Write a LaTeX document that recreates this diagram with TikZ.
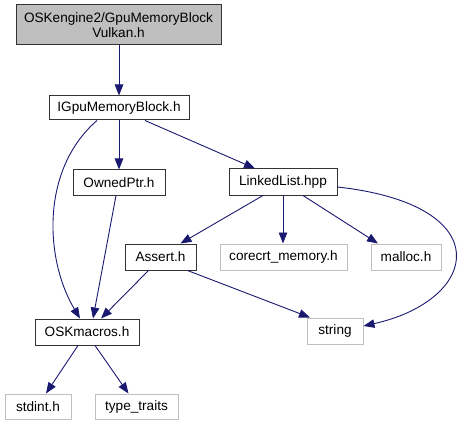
\documentclass[tikz,border=0pt]{standalone}
\usepackage{fontspec}
\setmainfont{Liberation Sans}
\usetikzlibrary{arrows.meta}
\definecolor{edgeblue}{HTML}{191970}
\definecolor{extgray}{HTML}{BFBFBF}
\tikzset{
  box/.style={draw=black!80, line width=1pt, inner sep=0pt, align=center, font=\fontsize{13.6}{15.5}\selectfont},
  extbox/.style={box, draw=extgray},
  topbox/.style={box, fill=extgray},
  dep/.style={draw=edgeblue, line width=0.9pt, -{Triangle[length=11pt,width=8.5pt]}, edgeblue}
}
\begin{document}
\begin{tikzpicture}[x=1pt,y=-1pt]
\useasboundingbox (0,0) rectangle (466,425);
\node[topbox, minimum width=205, minimum height=40] (top) at (118.5,25) {OSKengine2/GpuMemoryBlock\\Vulkan.h};
\node[box, minimum width=140, minimum height=24] (igpu) at (119,108) {IGpuMemoryBlock.h};
\node[box, minimum width=92, minimum height=25] (owned) at (119,182.5) {OwnedPtr.h};
\node[box, minimum width=108, minimum height=26] (linked) at (283,182) {LinkedList.hpp};
\node[box, minimum width=71, minimum height=26] (assert) at (160.5,257) {Assert.h};
\node[extbox, minimum width=127, minimum height=26] (corecrt) at (283.5,257) {corecrt\_memory.h};
\node[extbox, minimum width=70, minimum height=26] (malloc) at (406,257) {malloc.h};
\node[extbox, minimum width=56, minimum height=26] (string) at (335,331) {string};
\node[box, minimum width=104, minimum height=26] (osk) at (87,332) {OSKmacros.h};
\node[extbox, minimum width=66, minimum height=25] (stdint) at (38,406.5) {stdint.h};
\node[extbox, minimum width=83, minimum height=25] (type) at (136.5,406.5) {type\_traits};

\draw[dep] (top.south -| igpu.north) -- (igpu.north);
\draw[dep] (igpu.south) -- (owned.north);
\draw[dep] ([xshift=26]igpu.south) -- ([xshift=-28]linked.north);
\draw[dep] ([xshift=-22]igpu.south) .. controls (40,170) and (45,260) .. ([xshift=-7]osk.north);
\draw[dep] ([xshift=-3]owned.south) -- ([xshift=6]osk.north);
\draw[dep] ([xshift=-12]assert.south) -- ([xshift=14]osk.north);
\draw[dep] ([xshift=27]assert.south) -- ([xshift=-25]string.north);
\draw[dep] ([xshift=-20]linked.south) -- ([xshift=20]assert.north);
\draw[dep] (linked.south) -- (linked.south |- corecrt.north);
\draw[dep] ([xshift=20]linked.south) -- ([xshift=-28]malloc.north);
\draw[dep] ([yshift=-5]linked.east) .. controls (500,205) and (480,300) .. ([yshift=5]string.east);
\draw[dep] ([xshift=-9]osk.south) -- ([xshift=8]stdint.north);
\draw[dep] ([xshift=8]osk.south) -- ([xshift=-8]type.north);
\end{tikzpicture}
\end{document}
